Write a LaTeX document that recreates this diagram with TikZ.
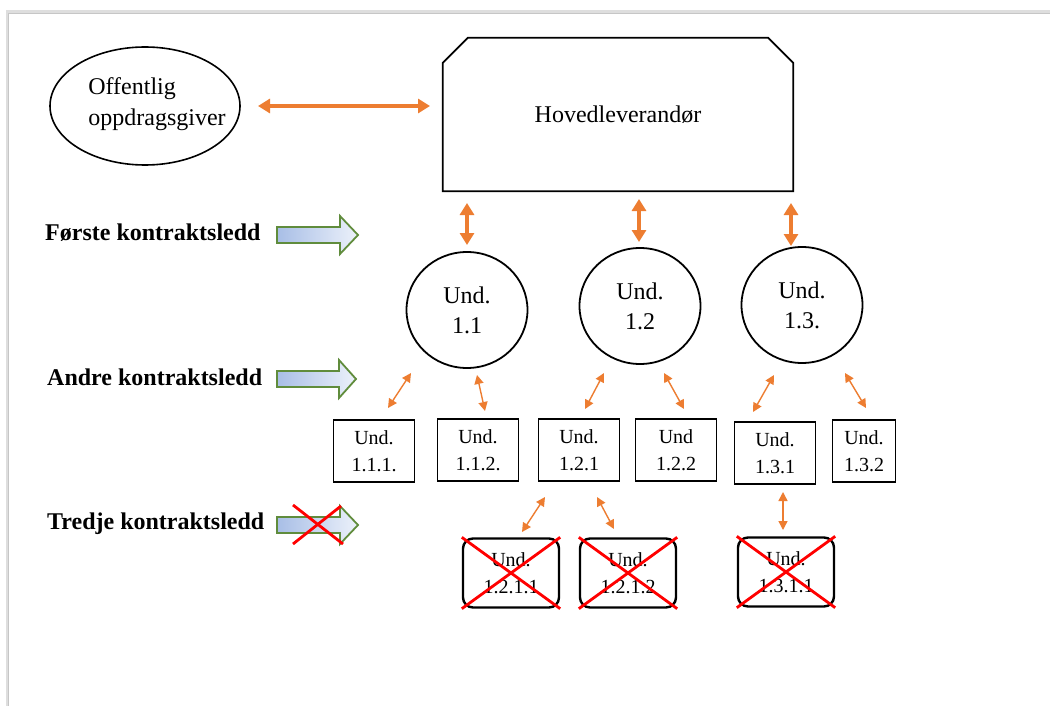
\documentclass[tikz,border=0pt]{standalone}
\usepackage{fontspec}
\setmainfont{Liberation Serif}
\usetikzlibrary{shapes.geometric,shapes.misc,arrows.meta}
\definecolor{org}{RGB}{237,125,49}
\definecolor{grn}{RGB}{96,140,60}
\definecolor{lblue}{RGB}{168,190,230}
\definecolor{xblue}{RGB}{236,241,250}
\definecolor{xred}{RGB}{255,0,0}
\definecolor{frame}{RGB}{222,222,222}
\begin{document}
\begin{tikzpicture}[x=1pt,y=-1pt,
  bigarr/.style={org, line width=3.6pt, {Triangle[length=12pt,width=14pt]}-{Triangle[length=12pt,width=14pt]}},
  smallarr/.style={org, line width=1.4pt, {Triangle[length=9pt,width=9pt]}-{Triangle[length=9pt,width=9pt]}},
  circ/.style={ellipse, draw, line width=1.8pt, minimum width=121pt, minimum height=116pt, inner sep=0pt, align=center, font=\fontsize{24}{30}\selectfont},
  ubox/.style={rectangle, draw, line width=1.8pt, minimum width=81pt, minimum height=62pt, inner sep=0pt, align=center, font=\fontsize{20}{27}\selectfont},
  xbox/.style={rectangle, rounded corners=10pt, draw, line width=2.4pt, minimum width=96pt, minimum height=69pt, inner sep=0pt, align=center, font=\fontsize{20}{27}\selectfont},
  levlabel/.style={anchor=base west, inner sep=0pt, font=\fontsize{24}{28}\selectfont\bfseries},
  blockarr/.style={draw=grn, line width=1.8pt, left color=lblue, right color=xblue},
  cross/.style={xred, line width=2.8pt}
]
\useasboundingbox (0,0) rectangle (1050,706);
\fill[white] (0,0) rectangle (1050,706);
% page frame shadow
\draw[frame, line width=3pt] (7,706) -- (7,12) -- (1050,12);
\draw[gray!45, line width=0.8pt] (8,706) -- (8,13) -- (1050,13);

% top level
\node[ellipse, draw, line width=1.6pt, minimum width=190pt, minimum height=118pt, inner sep=0pt] (og) at (145,106) {};
\node[align=left, inner sep=0pt, font=\fontsize{24}{31}\selectfont] (ogtext) at (157,104) {Offentlig\\oppdragsgiver};
\node[rectangle, minimum width=350pt, minimum height=153pt, inner sep=0pt, font=\fontsize{24}{28}\selectfont] (hov) at (618,114.5) {Hovedleverandør};
\draw[line width=1.8pt, line join=miter]
  (hov.south west) -- ([yshift=-25pt]hov.north west) -- ([xshift=25pt]hov.north west)
  -- ([xshift=-25pt]hov.north east) -- ([yshift=-25pt]hov.north east) -- (hov.south east) -- cycle;

\coordinate (h1) at (258,106);
\coordinate (h2) at (430,106);
\draw[bigarr] (h1) -- (h2);

% level labels
\node[levlabel] (l1) at (45,240) {Første kontraktsledd};
\node[levlabel] (l2) at (47,385) {Andre kontraktsledd};
\node[levlabel] (l3) at (47,529) {Tredje kontraktsledd};

% block arrows
\path[blockarr] (277,227) -- (340,227) -- (340,216) -- (358,235) -- (340,254) -- (340,243) -- (277,243) -- cycle;
\path[blockarr] (277,371) -- (339,371) -- (339,360) -- (356,379) -- (339,398) -- (339,387) -- (277,387) -- cycle;
\path[blockarr] (277,517) -- (340,517) -- (340,506) -- (358,525) -- (340,544) -- (340,533) -- (277,533) -- cycle;
\coordinate (x1) at (293,505);
\coordinate (x2) at (343,544);
\coordinate (x3) at (341,506);
\coordinate (x4) at (293,544);
\draw[cross] (x1) -- (x2);
\draw[cross] (x3) -- (x4);

% first level
\node[circ] (c1) at (467,310) {Und.\\1.1};
\node[circ] (c2) at (640,306) {Und.\\1.2};
\node[circ] (c3) at (802,305) {Und.\\1.3.};

\coordinate (v1a) at (467,203); \coordinate (v1b) at (467,245);
\coordinate (v2a) at (639,199); \coordinate (v2b) at (639,242);
\coordinate (v3a) at (791,203); \coordinate (v3b) at (791,246);
\draw[bigarr] (v1a) -- (v1b);
\draw[bigarr] (v2a) -- (v2b);
\draw[bigarr] (v3a) -- (v3b);

% second level
\node[ubox] (u111) at (374,451) {Und.\\1.1.1.};
\node[ubox] (u112) at (478,450) {Und.\\1.1.2.};
\node[ubox] (u121) at (579,450) {Und.\\1.2.1};
\node[ubox] (u122) at (676,450) {Und\\1.2.2};
\node[ubox] (u131) at (775,453) {Und.\\1.3.1};
\node[ubox, minimum width=63pt] (u132) at (864,451) {Und.\\1.3.2};

\coordinate (a1a) at (411,373); \coordinate (a1b) at (388,408);
\coordinate (a2a) at (477,375); \coordinate (a2b) at (485,411);
\coordinate (a3a) at (604,373); \coordinate (a3b) at (585,409);
\coordinate (a4a) at (664,373); \coordinate (a4b) at (684,409);
\coordinate (a5a) at (774,375); \coordinate (a5b) at (753,412);
\coordinate (a6a) at (845,373); \coordinate (a6b) at (866,408);
\draw[smallarr] (a1a) -- (a1b);
\draw[smallarr] (a2a) -- (a2b);
\draw[smallarr] (a3a) -- (a3b);
\draw[smallarr] (a4a) -- (a4b);
\draw[smallarr] (a5a) -- (a5b);
\draw[smallarr] (a6a) -- (a6b);

% third level
\node[xbox] (u1211) at (511,573) {Und.\\1.2.1.1};
\node[xbox] (u1212) at (628,573) {Und.\\1.2.1.2};
\node[xbox] (u1311) at (786,572) {Und.\\1.3.1.1};

\coordinate (b1a) at (545,497); \coordinate (b1b) at (522,532);
\coordinate (b2a) at (597,497); \coordinate (b2b) at (614,529);
\coordinate (b3a) at (783,492); \coordinate (b3b) at (783,530);
\draw[smallarr] (b1a) -- (b1b);
\draw[smallarr] (b2a) -- (b2b);
\draw[smallarr] (b3a) -- (b3b);

\foreach \n in {u1211,u1212,u1311}{
  \draw[cross] (\n.north west) -- (\n.south east);
  \draw[cross] (\n.north east) -- (\n.south west);
}
\end{tikzpicture}
\end{document}
